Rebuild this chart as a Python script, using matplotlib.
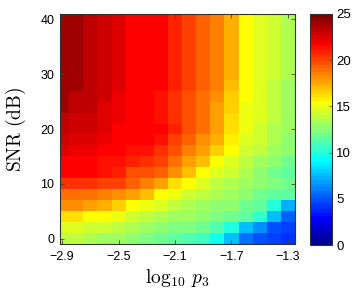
import matplotlib
matplotlib.use("Agg")
import matplotlib.pyplot as plt
import numpy as np
from matplotlib.colors import ListedColormap

# x axis: log10 p3 (cell centres), y axis: SNR in dB (cell centres)
log_p3 = [-2.9, -2.8, -2.7, -2.6, -2.5, -2.4, -2.3, -2.2, -2.1,
          -2.0, -1.9, -1.8, -1.7, -1.6, -1.5, -1.4, -1.3]
snr_db = [0, 2, 4, 6, 8, 10, 12, 14, 16, 18, 20,
          22, 24, 26, 28, 30, 32, 34, 36, 38, 40]

# one row per SNR value (bottom to top)
r00 = [13.8, 13.8, 13.6, 13.2, 12.9, 12.7, 12.3, 11.8, 11.6, 11.3, 10.7, 9.6, 7.6, 5.6, 4.8, 4.5, 4.2]
r02 = [14.8, 14.8, 14.4, 14.2, 14.0, 13.6, 13.1, 12.7, 12.3, 12.2, 11.9, 11.2, 10.1, 7.6, 6.4, 4.9, 4.6]
r04 = [16.2, 16.2, 15.6, 15.3, 14.9, 14.4, 13.9, 13.4, 13.0, 12.9, 12.7, 12.4, 12.0, 11.4, 10.2, 7.5, 5.4]
r06 = [18.0, 18.0, 17.7, 17.2, 16.7, 15.5, 15.0, 14.5, 13.8, 13.6, 13.1, 12.7, 12.5, 12.1, 11.5, 9.8, 7.4]
r08 = [19.1, 19.1, 19.1, 18.5, 18.3, 17.7, 16.9, 15.4, 14.9, 14.4, 13.8, 13.3, 12.9, 12.5, 12.1, 11.7, 11.4]
r10 = [20.4, 20.4, 20.4, 20.3, 20.0, 19.2, 18.6, 17.6, 16.3, 15.4, 14.7, 13.9, 13.4, 12.9, 12.6, 12.3, 11.9]
r12 = [21.7, 21.6, 21.5, 21.1, 20.8, 19.9, 19.6, 19.3, 18.2, 17.0, 15.4, 14.8, 14.1, 13.3, 12.7, 12.1, 11.7]
r14 = [21.7, 21.7, 21.6, 21.3, 21.1, 20.9, 20.4, 20.1, 18.9, 17.8, 16.8, 15.4, 14.8, 13.9, 13.1, 12.7, 12.1]
r16 = [22.5, 22.1, 22.0, 21.8, 21.7, 21.4, 21.3, 20.7, 19.9, 18.7, 17.8, 16.6, 15.4, 14.4, 13.8, 13.1, 12.5]
r18 = [22.8, 22.5, 22.5, 22.0, 21.7, 21.7, 21.6, 21.3, 20.3, 19.3, 18.3, 17.4, 15.7, 14.8, 14.2, 13.3, 12.7]
r20 = [23.1, 22.8, 22.8, 22.3, 21.7, 21.6, 21.7, 21.5, 20.9, 19.7, 18.8, 17.8, 16.4, 15.2, 14.4, 13.5, 13.1]
r22 = [23.1, 22.8, 22.8, 22.5, 22.1, 21.7, 21.6, 21.2, 20.7, 19.9, 19.0, 17.8, 16.4, 15.2, 14.5, 13.7, 13.0]
r24 = [24.0, 23.3, 23.1, 22.6, 22.0, 21.7, 21.5, 21.1, 20.4, 19.6, 18.8, 17.6, 16.5, 15.2, 14.5, 13.7, 13.0]
r26 = [24.0, 23.3, 23.2, 22.8, 22.2, 21.7, 21.6, 21.4, 20.6, 19.8, 19.0, 18.0, 16.7, 15.4, 14.6, 13.9, 13.1]
r28 = [24.0, 24.0, 23.3, 22.8, 22.3, 21.7, 21.6, 21.5, 20.9, 20.1, 19.3, 18.4, 16.8, 15.6, 14.8, 13.9, 13.2]
r30 = [24.0, 24.0, 23.3, 22.8, 22.3, 21.7, 21.7, 21.7, 20.9, 20.1, 19.3, 18.4, 17.5, 15.6, 14.8, 14.1, 13.3]
r32 = [24.0, 24.0, 23.3, 22.8, 22.3, 21.7, 21.7, 21.7, 20.9, 20.1, 19.3, 18.4, 17.5, 15.6, 14.8, 14.1, 13.3]
r34 = [24.0, 24.0, 23.3, 22.8, 22.3, 21.7, 21.7, 21.7, 20.9, 20.1, 19.3, 18.4, 17.5, 15.6, 14.8, 14.1, 13.3]
r36 = [24.0, 24.0, 23.3, 22.8, 22.3, 21.7, 21.7, 21.7, 20.9, 20.1, 19.3, 18.4, 17.5, 15.6, 14.8, 14.1, 13.3]
r38 = [24.0, 24.0, 23.3, 22.8, 22.3, 21.7, 21.7, 21.7, 20.9, 20.1, 19.3, 18.4, 17.5, 15.6, 14.8, 14.1, 13.3]
r40 = [24.0, 24.0, 23.3, 22.8, 22.3, 21.7, 21.7, 21.7, 20.9, 20.1, 19.3, 18.4, 17.5, 15.6, 14.8, 14.1, 13.3]

grid = np.array([r00, r02, r04, r06, r08, r10, r12, r14, r16, r18, r20,
                 r22, r24, r26, r28, r30, r32, r34, r36, r38, r40])

x_ticks = [-2.9, -2.5, -2.1, -1.7, -1.3]
y_ticks = [0, 10, 20, 30, 40]
cbar_ticks = [0, 5, 10, 15, 20, 25]


def matlab_jet(m=64):
    # same construction as MATLAB's jet(m)
    n = int(np.ceil(m / 4))
    u = np.concatenate([np.arange(1, n + 1) / n, np.ones(n - 1), np.arange(n, 0, -1) / n])
    g = int(np.ceil(n / 2)) - (1 if m % 4 == 1 else 0) + np.arange(1, len(u) + 1)
    r = g + n
    b = g - n
    rgb = np.zeros((m, 3))
    rgb[r[r <= m] - 1, 0] = u[r <= m]
    rgb[g[g <= m] - 1, 1] = u[g <= m]
    rgb[b[b >= 1] - 1, 2] = u[b >= 1]
    return ListedColormap(rgb)


plt.rcParams["font.family"] = ["Liberation Sans", "DejaVu Sans"]
plt.rcParams["mathtext.fontset"] = "cm"

fig = plt.figure(figsize=(3.55, 2.91), dpi=100)
ax = fig.add_axes([60 / 355, 47 / 291, 235 / 355, 230 / 291])
cax = fig.add_axes([310 / 355, 46 / 291, 22 / 355, 231 / 291])

mesh = ax.pcolormesh(log_p3, snr_db, grid, shading="nearest",
                     cmap=matlab_jet(64), vmin=0, vmax=25)

ax.set_xlim(-2.915, -1.25)
ax.set_ylim(-1, 41)
ax.set_xticks(x_ticks)
ax.set_xticklabels([f"\u2212{abs(v):.1f}" for v in x_ticks])
ax.set_yticks(y_ticks)
ax.tick_params(direction="in", top=True, right=True, length=3, width=0.6,
               labelsize=9, color="#404040")
ax.tick_params(axis="x", pad=5)
ax.tick_params(axis="y", pad=4)
for sp in ax.spines.values():
    sp.set_color("#333333")
    sp.set_linewidth(0.8)

ax.set_xlabel(r"$\log_{10}\, p_3$", fontsize=14, labelpad=3)
ax.set_ylabel(r"$\mathrm{SNR\ (dB)}$", fontsize=14, labelpad=9)

cb = fig.colorbar(mesh, cax=cax, ticks=cbar_ticks)
cb.ax.tick_params(direction="in", length=2, width=0.5, labelsize=9.5,
                  pad=3, color="#404040")
cb.outline.set_edgecolor("#333333")
cb.outline.set_linewidth(0.8)

fig.savefig("out.png", dpi=100)
